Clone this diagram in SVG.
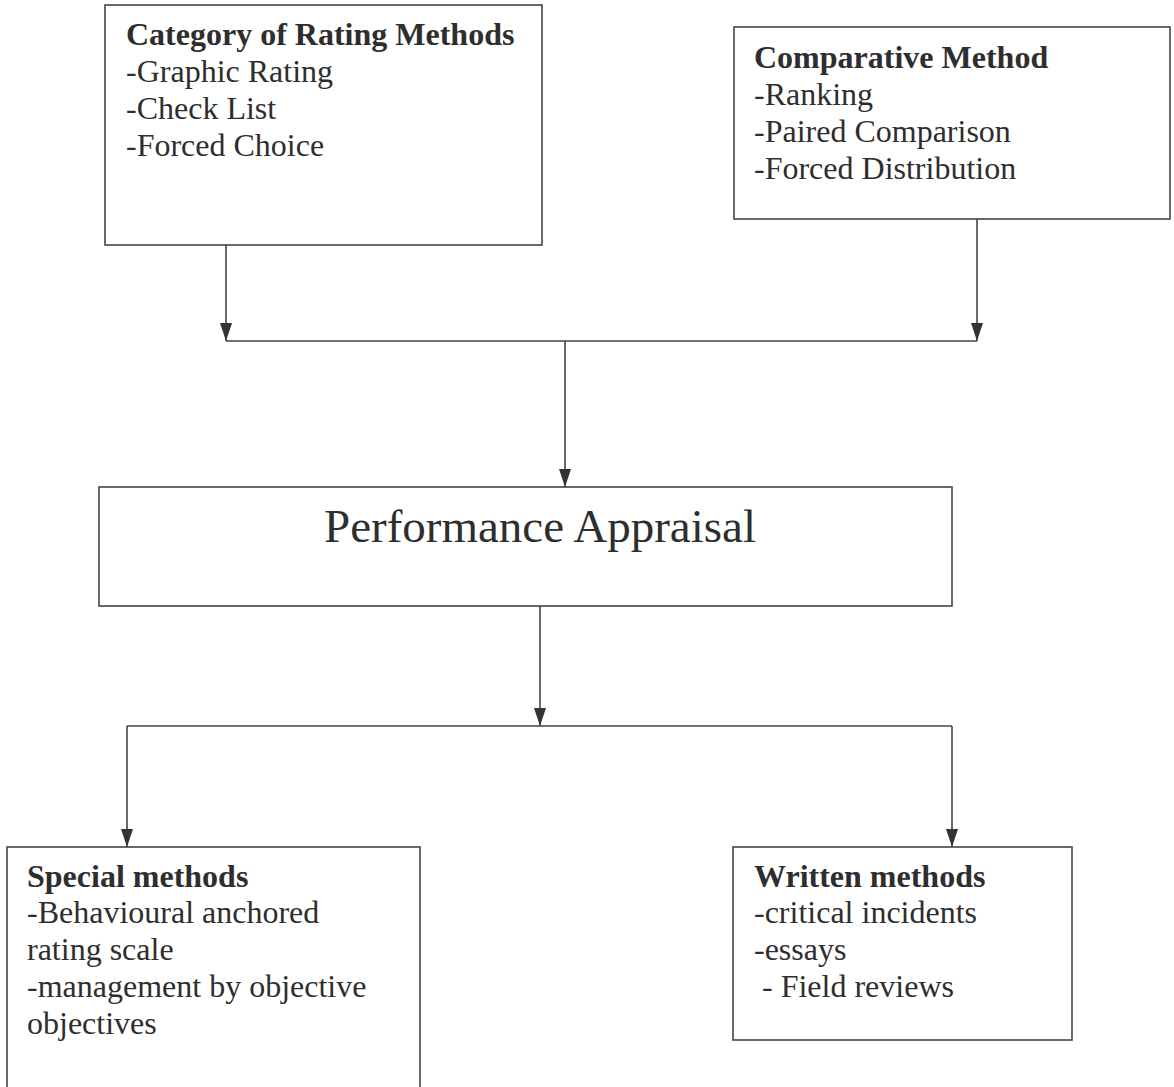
<svg xmlns="http://www.w3.org/2000/svg" width="1174" height="1087" viewBox="0 0 1174 1087">
<style>
.box{fill:#fff;stroke:#444;stroke-width:1.6}
.t{font-family:"Liberation Serif","Times New Roman",serif;font-size:32px;fill:#2e2e2e}
.b{font-weight:bold}
.big{font-family:"Liberation Serif","Times New Roman",serif;font-size:47px;fill:#2e2e2e}
.ln{fill:none;stroke:#444;stroke-width:1.6}
.ah{fill:#333}
</style>
<rect width="1174" height="1087" fill="#fff"/>
<g id="connectors">
<line class="ln" x1="226" y1="245" x2="226" y2="341"/>
<path class="ah" d="M220,323 L232,323 L226,341 Z"/>
<line class="ln" x1="977" y1="219" x2="977" y2="341"/>
<path class="ah" d="M971,323 L983,323 L977,341 Z"/>
<line class="ln" x1="226" y1="341" x2="977" y2="341"/>
<line class="ln" x1="565" y1="341" x2="565" y2="487"/>
<path class="ah" d="M559,469 L571,469 L565,487 Z"/>
<line class="ln" x1="540" y1="606" x2="540" y2="726"/>
<path class="ah" d="M534,708 L546,708 L540,726 Z"/>
<line class="ln" x1="127" y1="726" x2="952" y2="726"/>
<line class="ln" x1="127" y1="726" x2="127" y2="847"/>
<path class="ah" d="M121,829 L133,829 L127,847 Z"/>
<line class="ln" x1="952" y1="726" x2="952" y2="847"/>
<path class="ah" d="M946,829 L958,829 L952,847 Z"/>
</g>
<g id="rating">
<rect class="box" x="105" y="5" width="437" height="240"/>
<text class="t b" x="126" y="45">Category of Rating Methods</text>
<text class="t" x="126" y="82">-Graphic Rating</text>
<text class="t" x="126" y="119">-Check List</text>
<text class="t" x="126" y="156">-Forced Choice</text>
</g>
<g id="comparative">
<rect class="box" x="734" y="27" width="436" height="192"/>
<text class="t b" x="754" y="68">Comparative Method</text>
<text class="t" x="754" y="105">-Ranking</text>
<text class="t" x="754" y="142">-Paired Comparison</text>
<text class="t" x="754" y="179">-Forced Distribution</text>
</g>
<g id="appraisal">
<rect class="box" x="99" y="487" width="853" height="119"/>
<text class="big" x="540" y="542" text-anchor="middle">Performance Appraisal</text>
</g>
<g id="special">
<rect class="box" x="7" y="847" width="413" height="250"/>
<text class="t b" x="27" y="887">Special methods</text>
<text class="t" x="27" y="923">-Behavioural anchored</text>
<text class="t" x="27" y="960">rating scale</text>
<text class="t" x="27" y="997">-management by objective</text>
<text class="t" x="27" y="1034">objectives</text>
</g>
<g id="written">
<rect class="box" x="733" y="847" width="339" height="193"/>
<text class="t b" x="754" y="887">Written methods</text>
<text class="t" x="754" y="923">-critical incidents</text>
<text class="t" x="754" y="960">-essays</text>
<text class="t" x="754" y="997" xml:space="preserve"> - Field reviews</text>
</g>
</svg>
